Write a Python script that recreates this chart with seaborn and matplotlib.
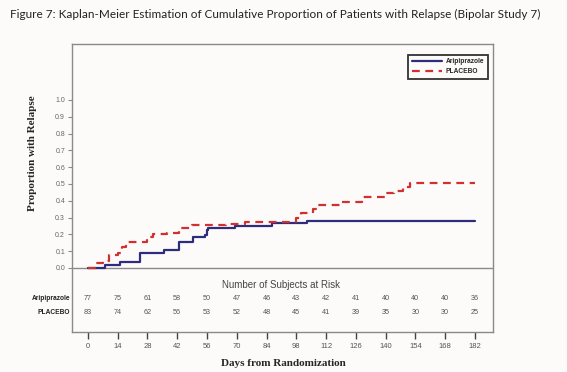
import matplotlib
matplotlib.use("Agg")
import matplotlib.pyplot as plt
import numpy as np
import pandas as pd
import seaborn as sns

# Kaplan-Meier step curves (day, cumulative proportion with relapse)
arip_days = [0, 8, 15, 24.5, 36, 43, 49.4, 55, 56, 56.5, 69, 86.5, 103, 182]
arip_prop = [0, 0.018, 0.038, 0.087, 0.107, 0.157, 0.185, 0.196, 0.226, 0.236,
             0.25, 0.266, 0.282, 0.282]
placebo_days = [0, 2, 4, 7, 10, 14, 16, 18, 28, 30.5, 37, 43, 49, 65, 74, 98,
                100, 106, 108, 118.5, 129, 140, 144, 148, 151.5, 182]
placebo_prop = [0, 0, 0.03, 0.042, 0.077, 0.09, 0.127, 0.155, 0.186, 0.2,
                0.21, 0.24, 0.256, 0.26, 0.276, 0.30, 0.33, 0.35, 0.375,
                0.395, 0.42, 0.446, 0.46, 0.484, 0.505, 0.505]

# number at risk table
risk_days = [0, 14, 28, 42, 56, 70, 84, 98, 112, 126, 140, 154, 168, 182]
arip_risk = [77, 75, 61, 58, 50, 47, 46, 43, 42, 41, 40, 40, 40, 36]
placebo_risk = [83, 74, 62, 56, 53, 52, 48, 45, 41, 39, 35, 30, 30, 25]

navy = "#2e2c7c"
red = "#d03030"
bg = "#fdfbf9"
frame = "#8a8a8a"

sns.set_style("white")
plt.rcParams["font.family"] = ["Liberation Sans", "DejaVu Sans"]

fig = plt.figure(figsize=(5.67, 3.72), dpi=100, facecolor=bg)
ax = fig.add_axes([72 / 567, 40 / 372, 421 / 567, 288 / 372], facecolor=bg)

arip = pd.DataFrame({"day": arip_days, "prop": arip_prop})
plac = pd.DataFrame({"day": placebo_days, "prop": placebo_prop})
sns.lineplot(data=arip, x="day", y="prop", ax=ax, color=navy, lw=1.6,
             drawstyle="steps-post", label="Aripiprazole")
sns.lineplot(data=plac, x="day", y="prop", ax=ax, color=red, lw=1.6,
             linestyle=(0, (3.5, 2.5)), drawstyle="steps-post", label="PLACEBO")

ax.axhline(0, color=frame, lw=1.0, zorder=1)
ax.set_xlim(-7.5, 190.5)
ax.set_ylim(-0.381, 1.333)

ax.set_yticks(np.arange(0, 1.01, 0.1))
ax.set_yticklabels([f"{v:.1f}" for v in np.arange(0, 1.01, 0.1)])
ax.set_xticks(risk_days)
ax.tick_params(axis="y", direction="out", length=3, width=0.8, colors=frame,
               labelsize=5, labelcolor="#666666", pad=2, left=True)
ax.tick_params(axis="x", direction="out", length=5, width=1.0, colors="#444444",
               labelsize=5.5, labelcolor="#555555", pad=3, bottom=True)

for s in ax.spines.values():
    s.set_color(frame)
    s.set_linewidth(1.0)

ax.set_ylabel("Proportion with Relapse", family=["Liberation Serif"],
              fontweight="bold", fontsize=8, labelpad=12)
ax.yaxis.set_label_coords(-0.083, 0.62)
ax.set_xlabel("Days from Randomization", family=["Liberation Serif"],
              fontweight="bold", fontsize=8, labelpad=6)
ax.xaxis.set_label_coords(0.502, -0.095)

# risk table
ax.text(91, -0.10, "Number of Subjects at Risk", ha="center", va="center",
        fontsize=7, color="#444444")
for d, a, p in zip(risk_days, arip_risk, placebo_risk):
    ax.text(d, -0.18, str(a), ha="center", va="center", fontsize=5.2, color="#555555")
    ax.text(d, -0.262, str(p), ha="center", va="center", fontsize=5.2, color="#555555")
ax.text(-8.5, -0.18, "Aripiprazole", ha="right", va="center", fontsize=4.8,
        fontweight="bold", color="#222222")
ax.text(-8.5, -0.262, "PLACEBO", ha="right", va="center", fontsize=4.8,
        fontweight="bold", color="#222222")

leg = ax.legend(loc="upper right", fontsize=4.8, frameon=True, fancybox=False,
                borderpad=0.5, handlelength=4.5, handletextpad=0.6,
                labelspacing=0.5, bbox_to_anchor=(0.995, 0.975))
leg.get_frame().set_edgecolor("black")
leg.get_frame().set_linewidth(1.3)
leg.get_frame().set_facecolor(bg)
for t in leg.get_texts():
    t.set_fontweight("bold")

fig.text(0.018, 0.975, "Figure 7: Kaplan-Meier Estimation of Cumulative Proportion "
         "of Patients with Relapse (Bipolar Study 7)", family=["Lato", "DejaVu Sans"],
         fontsize=8.5, va="top", ha="left", color="#222222")

fig.savefig("out.png", dpi=100, facecolor=bg)
